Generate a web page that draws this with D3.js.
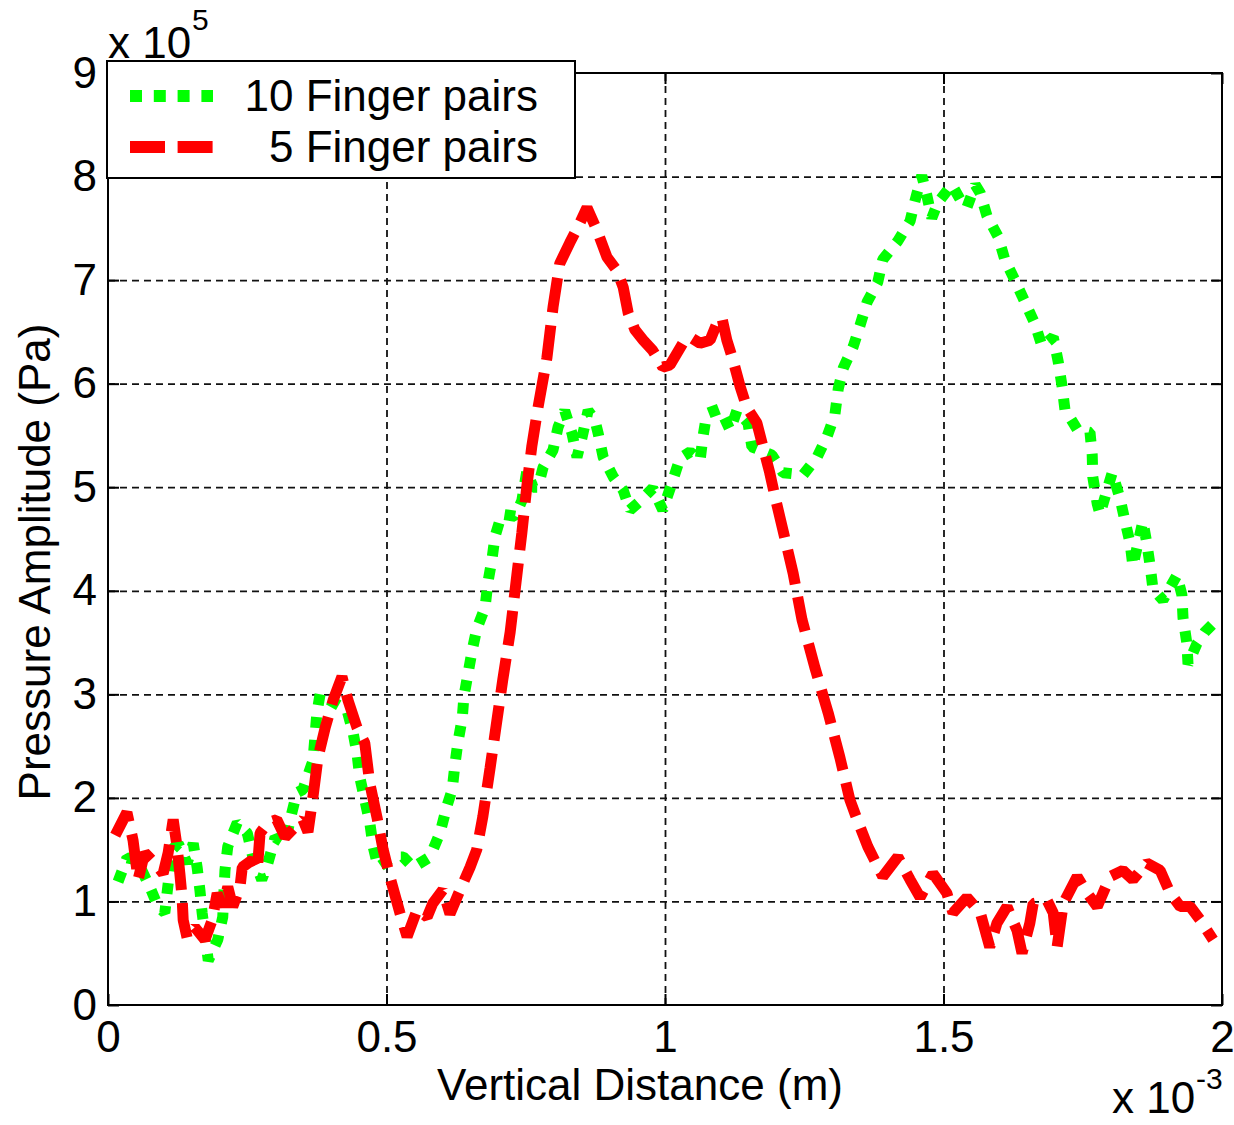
<!DOCTYPE html>
<html>
<head>
<meta charset="utf-8">
<script src="https://cdn.jsdelivr.net/npm/d3@7"></script>
<style>
  body { margin: 0; background: #fff; }
  svg text { font-family: "Liberation Sans", Arial, sans-serif; fill: #000; }
</style>
</head>
<body>
<svg class="chart"></svg>
<script>

// x in units of 1e-3 m, y in units of 1e5 Pa
var xTicks = [0, 0.5, 1, 1.5, 2];
var yTicks = [0, 1, 2, 3, 4, 5, 6, 7, 8, 9];

var seriesNames = ["10 Finger pairs", "5 Finger pairs"];

var xTen = [0.018,0.034,0.052,0.075,0.090,0.102,0.106,0.115,0.126,0.142,0.153,0.160,0.165,0.169,0.180,0.197,0.206,0.210,0.215,0.232,
  0.250,0.260,0.276,0.287,0.300,0.318,0.327,0.339,0.350,0.368,0.375,0.381,0.399,0.429,0.440,0.447,0.452,0.461,0.470,0.476,
  0.485,0.512,0.530,0.548,0.578,0.596,0.609,0.618,0.623,0.628,0.636,0.639,0.646,0.654,0.662,0.677,0.682,0.689,0.695,0.707,
  0.731,0.743,0.752,0.763,0.772,0.781,0.799,0.808,0.820,0.833,0.842,0.851,0.862,0.874,0.880,0.889,0.907,0.925,0.937,0.952,
  0.978,0.996,1.013,1.027,1.045,1.063,1.068,1.075,1.099,1.117,1.129,1.149,1.156,1.192,1.212,1.248,1.273,1.291,1.305,1.311,
  1.320,1.338,1.350,1.363,1.382,1.391,1.417,1.440,1.449,1.461,1.470,1.479,1.490,1.515,1.533,1.542,1.557,1.566,1.578,1.598,
  1.610,1.628,1.646,1.664,1.677,1.697,1.706,1.713,1.718,1.740,1.763,1.767,1.768,1.776,1.781,1.794,1.803,1.817,1.826,1.835,
  1.840,1.858,1.865,1.871,1.876,1.894,1.919,1.928,1.930,1.937,1.939,1.955,1.969,1.982];
var yTen = [1.19,1.42,1.40,1.14,0.95,0.89,1.08,1.50,1.56,1.37,1.56,1.33,1.11,0.89,0.43,0.63,0.85,1.30,1.53,1.76,
  1.66,1.43,1.21,1.37,1.62,1.56,1.79,2.05,2.08,2.36,2.82,3.01,2.94,2.85,2.63,2.43,2.20,1.98,1.76,1.53,
  1.33,1.43,1.43,1.33,1.43,1.66,1.93,2.08,2.33,2.53,2.77,2.98,3.19,3.43,3.63,3.84,4.08,4.29,4.53,4.74,
  4.72,4.87,5.16,5.00,5.00,5.19,5.36,5.58,5.74,5.52,5.29,5.48,5.74,5.65,5.52,5.29,5.10,4.97,4.78,4.85,
  4.99,4.78,5.05,5.28,5.34,5.26,5.48,5.71,5.76,5.55,5.74,5.62,5.39,5.31,5.14,5.12,5.29,5.49,5.70,5.95,
  6.15,6.36,6.56,6.79,6.98,7.20,7.37,7.57,7.77,8.01,7.82,7.60,7.75,7.92,7.75,7.70,7.92,7.84,7.62,7.42,
  7.20,7.00,6.79,6.58,6.36,6.45,6.21,5.97,5.75,5.56,5.53,5.31,5.10,4.84,4.74,4.98,5.14,4.89,4.67,4.46,
  4.24,4.67,4.46,4.24,4.02,3.91,4.15,3.96,3.74,3.49,3.29,3.49,3.60,3.67];

var xFive = [0.013,0.034,0.045,0.054,0.066,0.084,0.099,0.108,0.117,0.124,0.129,0.133,0.135,0.142,0.156,0.174,0.187,0.196,0.205,0.215,
  0.224,0.237,0.241,0.259,0.268,0.273,0.287,0.303,0.318,0.336,0.350,0.359,0.368,0.377,0.390,0.404,0.420,0.431,0.447,0.461,
  0.470,0.483,0.494,0.506,0.524,0.537,0.555,0.573,0.583,0.601,0.614,0.632,0.650,0.662,0.673,0.686,0.698,0.709,0.722,0.734,
  0.743,0.752,0.761,0.772,0.788,0.799,0.811,0.829,0.847,0.860,0.878,0.896,0.914,0.925,0.934,0.946,0.961,0.978,0.996,1.009,
  1.032,1.045,1.063,1.081,1.093,1.102,1.111,1.122,1.135,1.147,1.165,1.176,1.188,1.197,1.212,1.230,1.246,1.269,1.293,1.314,
  1.332,1.345,1.364,1.391,1.418,1.440,1.458,1.481,1.506,1.517,1.542,1.566,1.583,1.596,1.614,1.632,1.641,1.655,1.661,1.686,
  1.697,1.704,1.715,1.740,1.758,1.776,1.799,1.822,1.840,1.865,1.889,1.907,1.925,1.943,1.961,1.984];
var yFive = [1.64,1.86,1.59,1.21,1.47,1.37,1.27,1.47,1.79,1.53,1.27,1.04,0.82,0.65,0.75,0.63,0.82,1.08,0.95,1.14,
  0.95,1.14,1.33,1.40,1.30,1.66,1.76,1.79,1.62,1.72,1.79,1.67,2.01,2.39,2.68,2.94,3.17,2.94,2.68,2.53,
  2.14,1.81,1.50,1.24,0.89,0.66,0.92,0.85,0.98,1.11,0.88,1.11,1.33,1.50,1.82,2.29,2.74,3.15,3.60,4.15,
  4.56,5.01,5.40,5.77,6.25,6.74,7.16,7.36,7.55,7.70,7.48,7.22,7.09,6.93,6.68,6.52,6.42,6.32,6.16,6.18,
  6.39,6.45,6.39,6.42,6.58,6.64,6.42,6.23,5.97,5.77,5.62,5.39,5.14,4.92,4.58,4.17,3.72,3.26,2.82,2.39,
  1.98,1.79,1.53,1.24,1.43,1.21,1.04,1.27,1.08,0.89,1.04,0.89,0.56,0.79,0.95,0.72,0.50,0.79,0.98,1.01,
  0.89,0.56,0.98,1.24,1.08,0.95,1.24,1.30,1.21,1.37,1.30,1.08,0.95,0.95,0.82,0.63];

var width = 1234,
    height = 1125;

var plotLeft = 108, plotRight = 1222, plotTop = 73, plotBottom = 1005;

var x = d3.scaleLinear().domain([0, 2]).range([plotLeft, plotRight]);
var y = d3.scaleLinear().domain([0, 9]).range([plotBottom, plotTop]);

var chart = d3.select(".chart")
    .attr("width", width)
    .attr("height", height);

// grid
chart.append("g")
    .attr("transform", "translate(0," + plotBottom + ")")
    .call(d3.axisBottom(x).tickValues(xTicks.slice(1, -1)).tickSize(-(plotBottom - plotTop)).tickFormat(""))
    .call(function(g) { g.select(".domain").remove(); })
    .selectAll("line")
    .attr("stroke", "#111").attr("stroke-width", 1.8).attr("stroke-dasharray", "7,5");

chart.append("g")
    .attr("transform", "translate(" + plotLeft + ",0)")
    .call(d3.axisLeft(y).tickValues(yTicks.slice(1, -1)).tickSize(-(plotRight - plotLeft)).tickFormat(""))
    .call(function(g) { g.select(".domain").remove(); })
    .selectAll("line")
    .attr("stroke", "#111").attr("stroke-width", 1.8).attr("stroke-dasharray", "7,5");

// curves
var line = d3.line()
    .x(function(d) { return x(d[0]); })
    .y(function(d) { return y(d[1]); });

var tenData = xTen.map(function(v, i) { return [v, yTen[i]]; });
var fiveData = xFive.map(function(v, i) { return [v, yFive[i]]; });

chart.append("path")
    .datum(tenData)
    .attr("d", line)
    .attr("fill", "none")
    .attr("stroke", "#00ff00")
    .attr("stroke-width", 11)
    .attr("stroke-linejoin", "bevel")
    .attr("stroke-dasharray", "11,12");

chart.append("path")
    .datum(fiveData)
    .attr("d", line)
    .attr("fill", "none")
    .attr("stroke", "#ff0000")
    .attr("stroke-width", 11)
    .attr("stroke-linejoin", "bevel")
    .attr("stroke-dasharray", "35,13");

// axes with inward ticks
chart.append("g")
    .attr("class", "ax")
    .attr("transform", "translate(0," + plotBottom + ")")
    .call(d3.axisBottom(x).tickValues(xTicks).tickSize(-11).tickPadding(16)
        .tickFormat(function(d) { return d; }));
chart.append("g")
    .attr("class", "ax")
    .attr("transform", "translate(" + plotLeft + ",0)")
    .call(d3.axisLeft(y).tickValues(yTicks).tickSize(-11).tickPadding(11));
chart.append("g")
    .attr("class", "ax")
    .attr("transform", "translate(0," + plotTop + ")")
    .call(d3.axisTop(x).tickValues(xTicks).tickSize(-11).tickFormat(""));
chart.append("g")
    .attr("class", "ax")
    .attr("transform", "translate(" + plotRight + ",0)")
    .call(d3.axisRight(y).tickValues(yTicks).tickSize(-11).tickFormat(""));

chart.selectAll(".domain").remove();
chart.selectAll(".ax .tick line").attr("stroke", "#000").attr("stroke-width", 2);
chart.selectAll(".ax .tick text").style("font-size", "44px").attr("fill", "#000");

chart.append("rect")
    .attr("x", plotLeft).attr("y", plotTop)
    .attr("width", plotRight - plotLeft).attr("height", plotBottom - plotTop)
    .attr("fill", "none").attr("stroke", "#000").attr("stroke-width", 2);

// exponent labels
chart.append("text").attr("x", 108).attr("y", 58).style("font-size", "44px").text("x 10");
chart.append("text").attr("x", 192).attr("y", 30).style("font-size", "30px").text("5");
chart.append("text").attr("x", 1112).attr("y", 1113).style("font-size", "44px").text("x 10");
chart.append("text").attr("x", 1196).attr("y", 1089).style("font-size", "30px").text("-3");

// axis titles
chart.append("text")
    .attr("x", 640).attr("y", 1100)
    .attr("text-anchor", "middle")
    .style("font-size", "44px")
    .text("Vertical Distance (m)");

chart.append("text")
    .attr("transform", "translate(50,562) rotate(-90)")
    .attr("text-anchor", "middle")
    .style("font-size", "44px")
    .text("Pressure Amplitude (Pa)");

// legend
var legend = chart.append("g");
legend.append("rect")
    .attr("x", 107).attr("y", 61).attr("width", 468).attr("height", 117)
    .attr("fill", "#fff").attr("stroke", "#000").attr("stroke-width", 2);

var legendColors = ["#00ff00", "#ff0000"];
var legendDash = ["12,11.8", "35,12.6"];
var legendY = [96, 147];

seriesNames.forEach(function(name, i) {
    legend.append("line")
        .attr("x1", 130).attr("x2", 213)
        .attr("y1", legendY[i]).attr("y2", legendY[i])
        .attr("stroke", legendColors[i])
        .attr("stroke-width", 12)
        .attr("stroke-dasharray", legendDash[i]);
    legend.append("text")
        .attr("x", 538).attr("y", legendY[i] + 15)
        .attr("text-anchor", "end")
        .style("font-size", "44px")
        .text(name);
});

</script>
</body>
</html>
